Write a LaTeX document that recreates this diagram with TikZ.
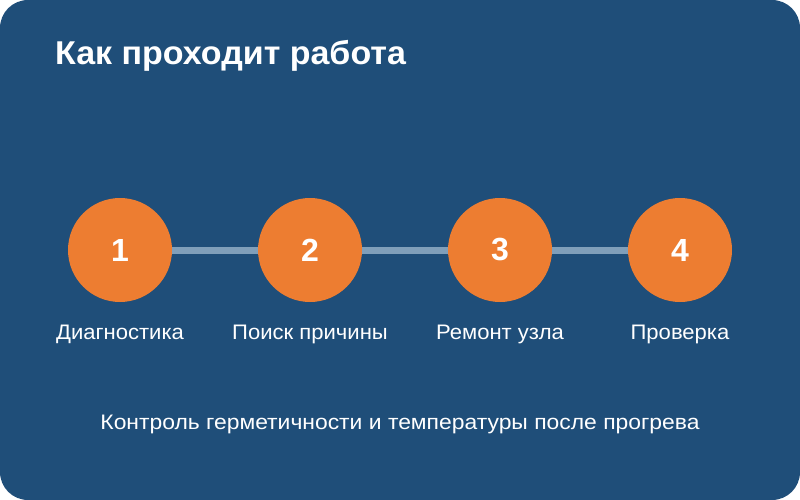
\documentclass[tikz,border=0pt]{standalone}
\usepackage{fontspec}
\setmainfont{Liberation Sans}
\newfontfamily\titlefont[FakeStretch=1.03]{Liberation Sans}
\newfontfamily\labelfont[FakeStretch=1.05]{Liberation Sans}
\newfontfamily\notefont[FakeStretch=1.09]{Liberation Sans}
\definecolor{bgblue}{HTML}{1F4E79}
\definecolor{stepor}{HTML}{ED7D31}
\definecolor{linkc}{HTML}{809FBA}
\begin{document}
\begin{tikzpicture}[x=1pt,y=-1pt,
  stepcircle/.style={circle, fill=stepor, minimum size=104pt, inner sep=0pt, text=white, font=\fontsize{32}{36}\selectfont\bfseries},
  steplabel/.style={anchor=base, text=white, inner sep=0pt, font=\labelfont\fontsize{21}{24}\selectfont},
  link/.style={draw=linkc, line width=7pt}]
\useasboundingbox (0,0) rectangle (800,500);
\fill[white] (0,0) rectangle (800,500);
\fill[bgblue, rounded corners=28pt] (0,0) rectangle (800,500);
\node[anchor=base west, text=white, inner sep=0pt, font=\titlefont\fontsize{33}{36}\selectfont\bfseries] (title) at (55,65) {Как проходит работа};
\node[stepcircle] (c1) at (120,250) {1};
\node[stepcircle] (c2) at (310,250) {2};
\node[stepcircle] (c3) at (500,250) {3};
\node[stepcircle] (c4) at (680,250) {4};
\path[link] (c1.east) -- (c2.west);
\path[link] (c2.east) -- (c3.west);
\path[link] (c3.east) -- (c4.west);
\node[steplabel] (l1) at (120,339) {Диагностика};
\node[steplabel] (l2) at (310,339) {Поиск причины};
\node[steplabel] (l3) at (500,339) {Ремонт узла};
\node[steplabel] (l4) at (680,339) {Проверка};
\node[steplabel, font=\notefont\fontsize{21}{24}\selectfont] (note) at (400,429) {Контроль герметичности и температуры после прогрева};
\end{tikzpicture}
\end{document}
